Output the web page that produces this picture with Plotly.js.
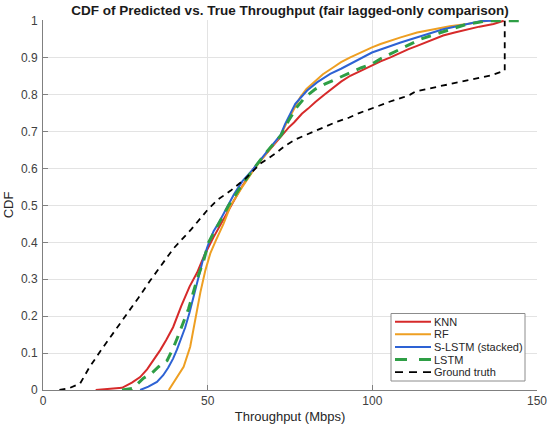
<!DOCTYPE html>
<html>
<head>
<meta charset="utf-8">
<script src="https://cdn.plot.ly/plotly-3.0.1.min.js"></script>
<style>html,body{margin:0;padding:0;background:#fff;}#chart{width:550px;height:427px;}</style>
</head>
<body>
<div id="chart"></div>
<script>
const knnX = [16, 20, 24, 27, 29.5, 31.6, 33.5, 35.6, 37.5, 39.5, 42, 44.5, 46.8, 49, 51.8, 54, 56.5, 60, 64, 68.3, 70, 72.5, 74.5, 76.3, 78.6, 80.5, 82.7, 85.5, 88.5, 90.5, 93.3, 96.5, 99.9, 102.5, 105.5, 108.6, 111, 113.6, 116, 118.6, 121.5, 125, 128.8, 132.5, 136.8, 139.9];
const knnY = [0, 0.002, 0.006, 0.02, 0.035, 0.056, 0.08, 0.108, 0.137, 0.17, 0.228, 0.28, 0.318, 0.365, 0.414, 0.45, 0.49, 0.545, 0.6, 0.645, 0.665, 0.69, 0.71, 0.725, 0.748, 0.762, 0.78, 0.8, 0.82, 0.835, 0.851, 0.865, 0.878, 0.89, 0.901, 0.914, 0.923, 0.932, 0.94, 0.95, 0.96, 0.968, 0.977, 0.984, 0.991, 1.0];

const rfX = [38.2, 40.2, 42.7, 44.7, 46.3, 47.8, 49.3, 50.8, 52.5, 54.8, 57, 60.5, 64.3, 68.5, 72.2, 73.8, 75.5, 77, 78.1, 80, 82.2, 85, 88.2, 90.5, 93.3, 96.5, 99.9, 102.5, 105.5, 108.6, 113.6, 118.6, 123.5, 128.8, 132.8, 135];
const rfY = [0, 0.027, 0.063, 0.117, 0.198, 0.265, 0.324, 0.37, 0.405, 0.45, 0.5, 0.55, 0.6, 0.649, 0.69, 0.72, 0.75, 0.777, 0.793, 0.815, 0.833, 0.855, 0.874, 0.888, 0.901, 0.915, 0.928, 0.937, 0.946, 0.955, 0.968, 0.977, 0.985, 0.991, 0.997, 1.0];

const slstmX = [29.5, 32, 34.6, 36.5, 38, 39.5, 40.7, 42, 43.2, 44.5, 45.5, 46.8, 48.5, 50, 51.8, 53.5, 55.5, 58, 60.5, 64, 68.3, 72.1, 73.5, 75.1, 76.6, 78.1, 80.2, 83.2, 87.2, 90.5, 93.3, 96.5, 99.9, 102.5, 105.5, 108.6, 111, 113.6, 116, 118.6, 121.5, 125, 128.8, 131, 133, 137];
const slstmY = [0, 0.009, 0.022, 0.04, 0.06, 0.085, 0.11, 0.14, 0.17, 0.21, 0.245, 0.295, 0.35, 0.39, 0.43, 0.455, 0.49, 0.53, 0.565, 0.6, 0.649, 0.69, 0.72, 0.748, 0.775, 0.79, 0.811, 0.833, 0.856, 0.87, 0.883, 0.898, 0.914, 0.922, 0.932, 0.941, 0.948, 0.955, 0.962, 0.968, 0.977, 0.984, 0.99, 0.995, 0.999, 1.0];

const lstmX = [24, 27, 28.5, 30.5, 33, 35.1, 37.7, 39.7, 41.2, 42.7, 44.2, 45.5, 46.8, 48.8, 50.3, 51.8, 54, 56.4, 60, 64, 68.3, 72.3, 74.6, 77.1, 79.6, 82.7, 85.7, 88.5, 91, 93.3, 96.5, 99.9, 102.5, 105.5, 108.6, 110.5, 114.6, 119, 123.7, 128.8, 133.8, 135.5, 145.5];
const lstmY = [0, 0.004, 0.015, 0.032, 0.045, 0.063, 0.08, 0.117, 0.15, 0.185, 0.22, 0.26, 0.3, 0.351, 0.4, 0.425, 0.46, 0.5, 0.55, 0.6, 0.649, 0.69, 0.73, 0.766, 0.793, 0.815, 0.829, 0.84, 0.85, 0.86, 0.872, 0.883, 0.897, 0.91, 0.923, 0.932, 0.95, 0.963, 0.977, 0.991, 0.998, 1.0, 1.0];

const truthX = [5, 8, 11.3, 14, 17.4, 21, 25, 29, 32.6, 36, 39.6, 45, 49.8, 53, 57, 61.4, 63, 66, 70.5, 73.6, 77, 80.6, 85, 88.8, 93, 96, 100.9, 105, 109.5, 111.5, 113, 117, 121.2, 126, 131.3, 136, 140.2, 140.2];
const truthY = [0, 0.005, 0.018, 0.06, 0.105, 0.15, 0.198, 0.25, 0.297, 0.34, 0.383, 0.435, 0.486, 0.515, 0.54, 0.572, 0.586, 0.613, 0.64, 0.662, 0.68, 0.694, 0.71, 0.725, 0.738, 0.75, 0.766, 0.78, 0.793, 0.8, 0.808, 0.815, 0.824, 0.833, 0.842, 0.852, 0.865, 1.0];

const seriesNames = ['KNN', 'RF', 'S-LSTM (stacked)', 'LSTM', 'Ground truth'];
const xTicks = [0, 50, 100, 150];

const FONT = '"Liberation Sans", Arial, Helvetica, sans-serif';

const styles = [
  {color: '#D62A2A', width: 2},
  {color: '#EE9F22', width: 2},
  {color: '#2D62D4', width: 2},
  {color: '#2E9E45', width: 3, dash: '10px,8px'},
  {color: '#000000', width: 1.8, dash: '6px,5px'}
];
const legendDash = [null, null, null, '12px,12px', '8px,6px'];
const xs = [knnX, rfX, slstmX, lstmX, truthX];
const ys = [knnY, rfY, slstmY, lstmY, truthY];

const traces = seriesNames.map((n, i) => ({
  type: 'scatter', mode: 'lines', name: n, x: xs[i], y: ys[i], line: styles[i], showlegend: false
}));

// Compact legend box (MATLAB style), placed in paper coordinates
const W = 550, H = 427, M = {l: 43, r: 13, t: 20, b: 37};
const pw = W - M.l - M.r, ph = H - M.t - M.b;
const px = v => (v - M.l) / pw;           // pixel -> paper x
const py = v => (H - M.b - v) / ph;       // pixel -> paper y
const shapes = [{
  type: 'rect', xref: 'paper', yref: 'paper',
  x0: px(391), x1: px(525), y0: py(381), y1: py(313.5),
  line: {color: '#8c8c8c', width: 1}, fillcolor: '#ffffff', layer: 'above'
}];
const annotations = [];
seriesNames.forEach((n, i) => {
  const rowY = 321.7 + 12.6 * i;
  const st = styles[i];
  const sh = {
    type: 'line', xref: 'paper', yref: 'paper', layer: 'above',
    x0: px(395), x1: px(431), y0: py(rowY), y1: py(rowY),
    line: {color: st.color, width: st.width}
  };
  if (legendDash[i]) sh.line.dash = legendDash[i];
  shapes.push(sh);
  annotations.push({
    xref: 'paper', yref: 'paper', x: px(433), y: py(rowY), xanchor: 'left', yanchor: 'middle',
    text: n, showarrow: false, font: {family: FONT, size: 11, color: '#262626'}, borderpad: 0
  });
});

const layout = {
  width: W, height: H,
  margin: {l: M.l, r: M.r, t: M.t, b: M.b, pad: 0},
  paper_bgcolor: '#ffffff', plot_bgcolor: '#ffffff',
  font: {family: FONT, size: 12, color: '#404040'},
  showlegend: false,
  title: {
    text: 'CDF of Predicted vs. True Throughput (fair lagged-only comparison)',
    font: {family: FONT, size: 13.5, color: '#1a1a1a', weight: 'bold'},
    x: 0.5, xanchor: 'center', y: 0.975, yanchor: 'middle', xref: 'paper', yref: 'container'
  },
  xaxis: {
    range: [0, 150], tickvals: xTicks, ticktext: xTicks.map(String),
    showgrid: true, gridcolor: '#e3e3e3', gridwidth: 1,
    showline: true, linecolor: '#808080', linewidth: 1,
    ticks: 'inside', ticklen: 5, tickcolor: '#808080',
    zeroline: false, automargin: false,
    tickfont: {family: FONT, size: 12, color: '#404040'},
    title: {text: 'Throughput (Mbps)', font: {family: FONT, size: 13, color: '#262626'}, standoff: 4}
  },
  yaxis: {
    range: [0, 1.002], dtick: 0.1, tick0: 0,
    showgrid: true, gridcolor: '#e3e3e3', gridwidth: 1,
    showline: true, linecolor: '#808080', linewidth: 1,
    ticks: 'inside', ticklen: 5, tickcolor: '#808080',
    zeroline: false, automargin: false,
    tickfont: {family: FONT, size: 12, color: '#404040'},
    ticklabelstandoff: 2,
    title: {text: 'CDF', font: {family: FONT, size: 13, color: '#262626'}, standoff: 4}
  },
  shapes: shapes,
  annotations: annotations
};

Plotly.newPlot('chart', traces, layout, {displayModeBar: false, staticPlot: true});
</script>
</body>
</html>
